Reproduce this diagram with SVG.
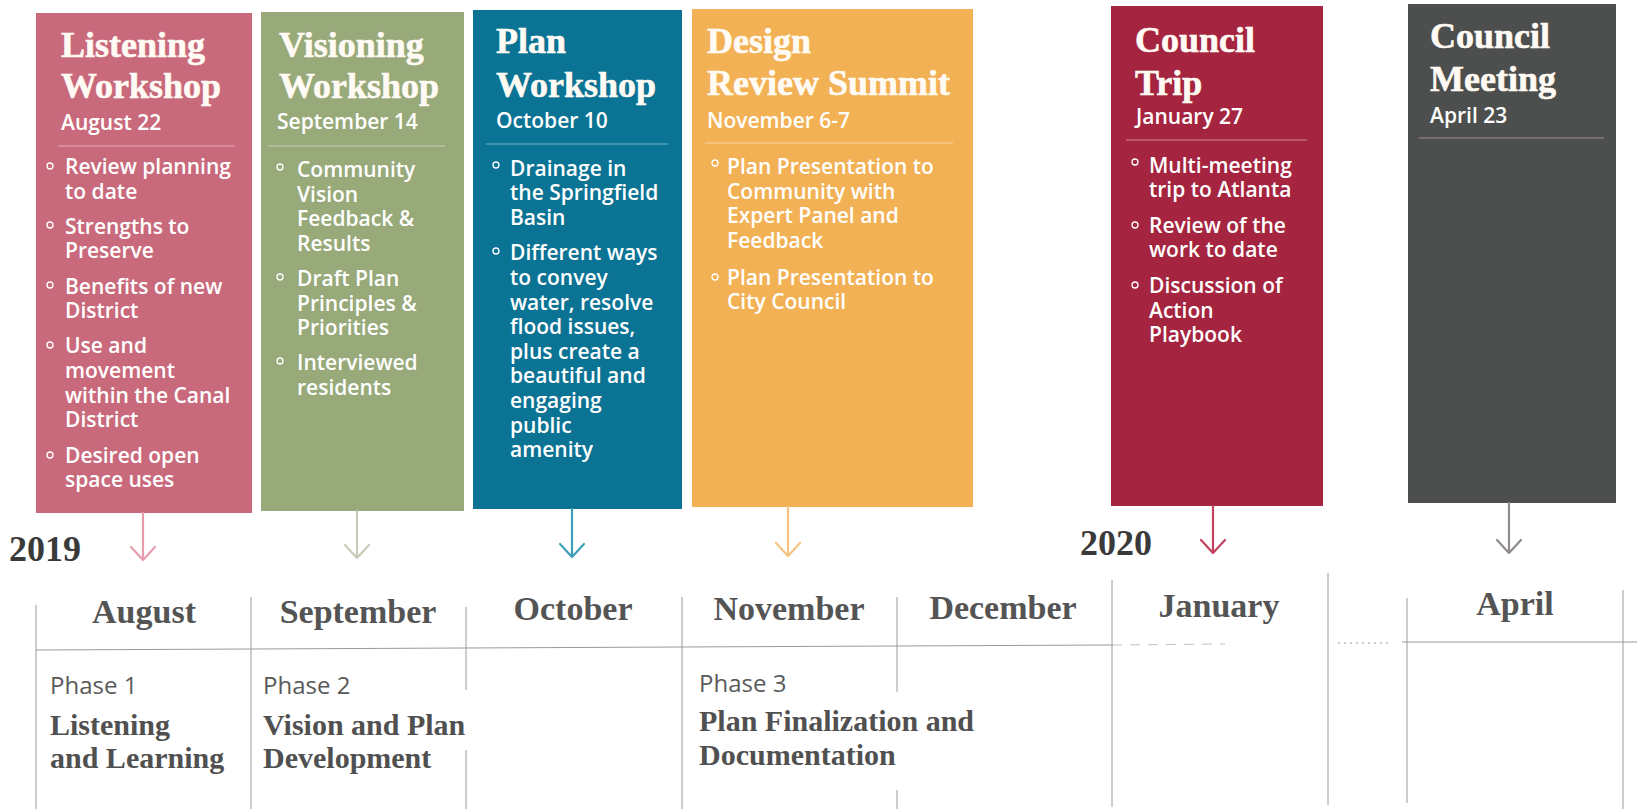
<svg xmlns="http://www.w3.org/2000/svg" width="1637" height="809" viewBox="0 0 1637 809">
<style>
  .title { font-family: "Liberation Serif", "Times New Roman", serif; font-weight: 700; font-size: 36px; fill: #FFFBF4; stroke: #FFFBF4; stroke-width: 0.6; }
  .date { font-family: "Open Sans", "Liberation Sans", sans-serif; font-weight: 600; font-size: 21px; fill: #FFFFFF; }
  .item { font-family: "Open Sans", "Liberation Sans", sans-serif; font-weight: 600; font-size: 21px; fill: #FFFFFF; }
  .div { stroke: #FFFFFF; stroke-opacity: 0.45; stroke-width: 1.2; }
  .dot { fill: none; stroke: #FFFFFF; stroke-width: 1.3; }
  .month { font-family: "Liberation Serif", "Times New Roman", serif; font-weight: 700; font-size: 34px; fill: #545454; text-anchor: middle; }
  .year { font-family: "Liberation Serif", "Times New Roman", serif; font-weight: 700; font-size: 36px; fill: #3A3A3A; }
  .phase { font-family: "Open Sans", "Liberation Sans", sans-serif; font-weight: 400; font-size: 24px; fill: #5A5A5A; }
  .ptitle { font-family: "Liberation Serif", "Times New Roman", serif; font-weight: 700; font-size: 30px; fill: #505050; }
  .grid { stroke: #9A9A9A; stroke-width: 1; fill: none; }
  .arrow { fill: none; stroke-width: 2.2; stroke-linecap: round; stroke-linejoin: round; }
</style>

<g id="timeline-grid">
  <path class="grid" d="M36 605 V809 M251 597 V809 M466 607 V690 M466 750 V809 M682 597 V809 M897 597 V692 M897 790 V809 M1112 580 V807 M1328 573 V805 M1407 598 V803 M1623 590 V809"/>
  <path class="grid" d="M36 650 L1112 645"/>
  <path class="grid" d="M1112 645 L1225 644" stroke-dasharray="10 8" stroke-opacity="0.6"/>
  <path class="grid" d="M1338 643 L1390 643" stroke-dasharray="2 4"/>
  <path class="grid" d="M1402 642 L1637 642"/>
  <text class="year" x="9" y="561">2019</text>
  <text class="year" x="1080" y="555">2020</text>
  <text class="month" x="144" y="623">August</text>
  <text class="month" x="358" y="623">September</text>
  <text class="month" x="573" y="620">October</text>
  <text class="month" x="789" y="620">November</text>
  <text class="month" x="1003" y="619">December</text>
  <text class="month" x="1219" y="617">January</text>
  <text class="month" x="1515" y="615">April</text>
</g>

<g id="phase-1">
  <text class="phase" x="50" y="694">Phase 1</text>
  <text class="ptitle" x="50" y="735">Listening</text>
  <text class="ptitle" x="50" y="768">and Learning</text>
</g>
<g id="phase-2">
  <text class="phase" x="263" y="694">Phase 2</text>
  <text class="ptitle" x="263" y="735">Vision and Plan</text>
  <text class="ptitle" x="263" y="768">Development</text>
</g>
<g id="phase-3">
  <text class="phase" x="699" y="692">Phase 3</text>
  <text class="ptitle" x="699" y="731">Plan Finalization and</text>
  <text class="ptitle" x="699" y="765">Documentation</text>
</g>

<g id="listening-workshop">
  <rect x="36" y="13" width="216" height="500" fill="#C96A7C"/>
  <text class="title" x="61" y="57">Listening</text>
  <text class="title" x="61" y="98">Workshop</text>
  <text class="date" x="61" y="130">August 22</text>
  <line class="div" x1="58" y1="146" x2="235" y2="146"/>
  <circle class="dot" cx="50" cy="166" r="3"/>
  <circle class="dot" cx="50" cy="225" r="3"/>
  <circle class="dot" cx="50" cy="285" r="3"/>
  <circle class="dot" cx="50" cy="345" r="3"/>
  <circle class="dot" cx="50" cy="455" r="3"/>
  <text class="item">
    <tspan x="65" y="174">Review planning</tspan>
    <tspan x="65" y="199">to date</tspan>
    <tspan x="65" y="234">Strengths to</tspan>
    <tspan x="65" y="258">Preserve</tspan>
    <tspan x="65" y="294">Benefits of new</tspan>
    <tspan x="65" y="318">District</tspan>
    <tspan x="65" y="353">Use and</tspan>
    <tspan x="65" y="378">movement</tspan>
    <tspan x="65" y="403">within the Canal</tspan>
    <tspan x="65" y="427">District</tspan>
    <tspan x="65" y="463">Desired open</tspan>
    <tspan x="65" y="487">space uses</tspan>
  </text>
</g>

<g id="visioning-workshop">
  <rect x="261" y="12" width="203" height="499" fill="#98A97A"/>
  <text class="title" x="279" y="57">Visioning</text>
  <text class="title" x="279" y="98">Workshop</text>
  <text class="date" x="277" y="129">September 14</text>
  <line class="div" x1="268" y1="146" x2="445" y2="146"/>
  <circle class="dot" cx="280" cy="167" r="3"/>
  <circle class="dot" cx="280" cy="277" r="3"/>
  <circle class="dot" cx="280" cy="361" r="3"/>
  <text class="item">
    <tspan x="297" y="177">Community</tspan>
    <tspan x="297" y="201.5">Vision</tspan>
    <tspan x="297" y="226">Feedback &amp;</tspan>
    <tspan x="297" y="250.5">Results</tspan>
    <tspan x="297" y="286">Draft Plan</tspan>
    <tspan x="297" y="310.5">Principles &amp;</tspan>
    <tspan x="297" y="335">Priorities</tspan>
    <tspan x="297" y="370">Interviewed</tspan>
    <tspan x="297" y="394.5">residents</tspan>
  </text>
</g>

<g id="plan-workshop">
  <rect x="473" y="10" width="209" height="499" fill="#0B7394"/>
  <text class="title" x="496" y="53">Plan</text>
  <text class="title" x="496" y="97">Workshop</text>
  <text class="date" x="496" y="128">October 10</text>
  <line class="div" x1="486" y1="144" x2="668" y2="144"/>
  <circle class="dot" cx="496" cy="165" r="3"/>
  <circle class="dot" cx="496" cy="251" r="3"/>
  <text class="item">
    <tspan x="510" y="176">Drainage in</tspan>
    <tspan x="510" y="200">the Springfield</tspan>
    <tspan x="510" y="225">Basin</tspan>
    <tspan x="510" y="260">Different ways</tspan>
    <tspan x="510" y="285">to convey</tspan>
    <tspan x="510" y="309.5">water, resolve</tspan>
    <tspan x="510" y="334">flood issues,</tspan>
    <tspan x="510" y="358.5">plus create a</tspan>
    <tspan x="510" y="383">beautiful and</tspan>
    <tspan x="510" y="408">engaging</tspan>
    <tspan x="510" y="432.5">public</tspan>
    <tspan x="510" y="457">amenity</tspan>
  </text>
</g>

<g id="design-review-summit">
  <rect x="692" y="9" width="281" height="498" fill="#F2B155"/>
  <text class="title" x="707" y="53">Design</text>
  <text class="title" x="707" y="95">Review Summit</text>
  <text class="date" x="707" y="128">November 6-7</text>
  <line class="div" x1="705" y1="143" x2="953" y2="143"/>
  <circle class="dot" cx="715" cy="163" r="3"/>
  <circle class="dot" cx="715" cy="277" r="3"/>
  <text class="item">
    <tspan x="727" y="174">Plan Presentation to</tspan>
    <tspan x="727" y="198.5">Community with</tspan>
    <tspan x="727" y="223">Expert Panel and</tspan>
    <tspan x="727" y="247.5">Feedback</tspan>
    <tspan x="727" y="284.5">Plan Presentation to</tspan>
    <tspan x="727" y="309">City Council</tspan>
  </text>
</g>

<g id="council-trip">
  <rect x="1111" y="6" width="212" height="500" fill="#A5243F"/>
  <text class="title" x="1135" y="52">Council</text>
  <text class="title" x="1135" y="95">Trip</text>
  <text class="date" x="1136" y="124">January 27</text>
  <line class="div" x1="1126" y1="140" x2="1307" y2="140"/>
  <circle class="dot" cx="1135" cy="162" r="3"/>
  <circle class="dot" cx="1135" cy="225" r="3"/>
  <circle class="dot" cx="1135" cy="285" r="3"/>
  <text class="item">
    <tspan x="1149" y="173">Multi-meeting</tspan>
    <tspan x="1149" y="197">trip to Atlanta</tspan>
    <tspan x="1149" y="233">Review of the</tspan>
    <tspan x="1149" y="257">work to date</tspan>
    <tspan x="1149" y="293">Discussion of</tspan>
    <tspan x="1149" y="317.5">Action</tspan>
    <tspan x="1149" y="342">Playbook</tspan>
  </text>
</g>

<g id="council-meeting">
  <rect x="1408" y="4" width="208" height="499" fill="#4C4F4D"/>
  <text class="title" x="1430" y="48">Council</text>
  <text class="title" x="1430" y="91">Meeting</text>
  <text class="date" x="1430" y="123">April 23</text>
  <line x1="1419" y1="138" x2="1604" y2="138" stroke="#A58A8E" stroke-width="1.2"/>
</g>

<g id="connectors">
  <path class="arrow" stroke="#E79DAC" d="M143 513 V560 M131 547 L143 560 L155 547"/>
  <path class="arrow" stroke="#C9CBB9" d="M357 511 V558 M345 545 L357 558 L369 545"/>
  <path class="arrow" stroke="#3E9DB9" d="M572 509 V557 M560 544 L572 557 L584 544"/>
  <path class="arrow" stroke="#F6C47E" d="M788 507 V556 M776 543 L788 556 L800 543"/>
  <path class="arrow" stroke="#C3425F" d="M1213 506 V553 M1201 540 L1213 553 L1225 540"/>
  <path class="arrow" stroke="#908A8C" d="M1509 503 V553 M1497 540 L1509 553 L1521 540"/>
</g>
</svg>
